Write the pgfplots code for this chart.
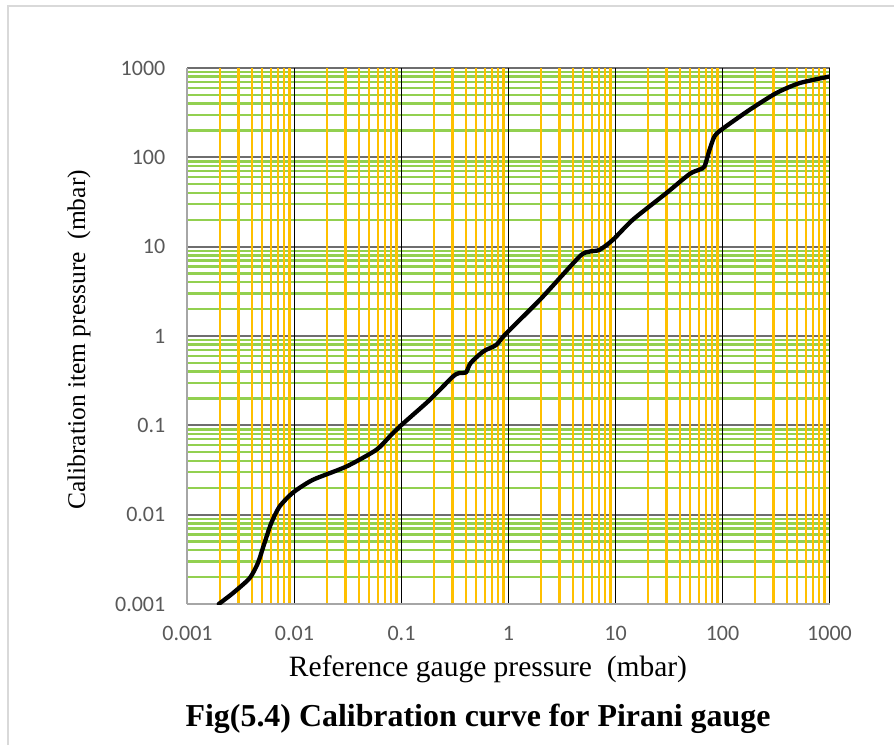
\documentclass[border=0pt]{standalone}
\usepackage{fontspec}
\setmainfont{Liberation Serif}
\newfontfamily\tickfont{Carlito}
\usepackage{pgfplots}
\pgfplotsset{compat=1.18}
\definecolor{tickgray}{HTML}{595959}
\definecolor{minx}{HTML}{FFC000}
\definecolor{miny}{HTML}{92D050}
\definecolor{majy}{HTML}{6E6E6E}
\definecolor{axgray}{HTML}{A6A6A6}
\definecolor{framegray}{HTML}{D9D9D9}
\pgfplotsset{
  mybase/.style={
    at={(187.5pt,141pt)}, anchor=south west,
    scale only axis, width=642pt, height=536pt,
    xmin=0.001, xmax=1000, ymin=0.001, ymax=1000,
    xtick={0.001,0.01,0.1,1,10,100,1000},
    ytick={0.001,0.01,0.1,1,10,100,1000},
    minor xtick={0.002,0.003,0.004,0.005,0.006,0.007,0.008,0.009,
      0.02,0.03,0.04,0.05,0.06,0.07,0.08,0.09,
      0.2,0.3,0.4,0.5,0.6,0.7,0.8,0.9,
      2,3,4,5,6,7,8,9,20,30,40,50,60,70,80,90,
      200,300,400,500,600,700,800,900},
    minor ytick={0.002,0.003,0.004,0.005,0.006,0.007,0.008,0.009,
      0.02,0.03,0.04,0.05,0.06,0.07,0.08,0.09,
      0.2,0.3,0.4,0.5,0.6,0.7,0.8,0.9,
      2,3,4,5,6,7,8,9,20,30,40,50,60,70,80,90,
      200,300,400,500,600,700,800,900},
    major tick length=0pt, minor tick length=0pt,
  }
}
\begin{document}
\begin{tikzpicture}[x=1pt,y=1pt]
\useasboundingbox (0,0) rectangle (894,745);
\fill[white] (0,0) rectangle (894,745);
\draw[framegray, line width=1.2pt] (8,0) -- (8,739) -- (894,739);
% horizontal grid (drawn first, underneath)
\begin{loglogaxis}[mybase,
  ymajorgrids, yminorgrids,
  major y grid style={majy, line width=2pt},
  minor y grid style={miny, line width=2.4pt},
  xticklabels={}, yticklabels={},
  axis line style={draw=none},
]
\addplot[draw=none] coordinates {(0.01,0.01)};
\end{loglogaxis}
% vertical grid, axes, labels and curve on top
\begin{loglogaxis}[mybase,
  xmajorgrids, xminorgrids,
  major x grid style={black, line width=1.7pt},
  minor x grid style={minx, line width=2.4pt},
  xticklabels={0.001,0.01,0.1,1,10,100,1000},
  yticklabels={0.001,0.01,0.1,1,10,100,1000},
  axis x line*=bottom, axis y line*=left,
  axis line style={-, axgray, line width=2pt},
  /pgf/number format/assume math mode=true,
  xticklabel style={font=\tickfont\fontsize{22}{24}\selectfont, text=tickgray, anchor=base, inner sep=0pt, yshift=-36pt},
  yticklabel style={font=\tickfont\fontsize{22}{24}\selectfont, text=tickgray, anchor=east, inner sep=0pt, xshift=-22pt},
]
\addplot[black, line width=4.3pt, smooth, tension=0.4, line cap=round, line join=round] coordinates {
(0.00196,0.001)
(0.00265,0.00132)
(0.0038,0.00194)
(0.00454,0.00286)
(0.00524,0.0048)
(0.00605,0.008)
(0.00724,0.0123)
(0.00964,0.0176)
(0.0148,0.0245)
(0.0304,0.0345)
(0.058,0.053)
(0.0773,0.0747)
(0.1,0.101)
(0.183,0.192)
(0.302,0.351)
(0.35,0.386)
(0.40,0.39)
(0.432,0.475)
(0.464,0.53)
(0.553,0.64)
(0.617,0.70)
(0.767,0.795)
(0.952,1.07)
(2.0,2.6)
(4.61,7.75)
(5.71,8.8)
(7.08,9.2)
(9.44,11.9)
(14.5,20)
(29.8,39.7)
(49.2,65)
(61,73)
(67.9,79)
(75.6,121)
(84,171)
(97,203)
(179,340)
(318,524)
(525,678)
(1000,803)
};
\end{loglogaxis}
\node[anchor=base, inner sep=0pt, font=\fontsize{29.5}{31}\selectfont] at (488,69) {Reference gauge pressure\ \ (mbar)};
\node[anchor=base, inner sep=0pt, rotate=90, font=\fontsize{25.5}{28}\selectfont] at (85,405) {Calibration item pressure\ \ (mbar)};
\node[anchor=base, inner sep=0pt, font=\bfseries\fontsize{31.9}{34}\selectfont] at (478,19) {Fig(5.4) Calibration curve for Pirani gauge};
\end{tikzpicture}
\end{document}
